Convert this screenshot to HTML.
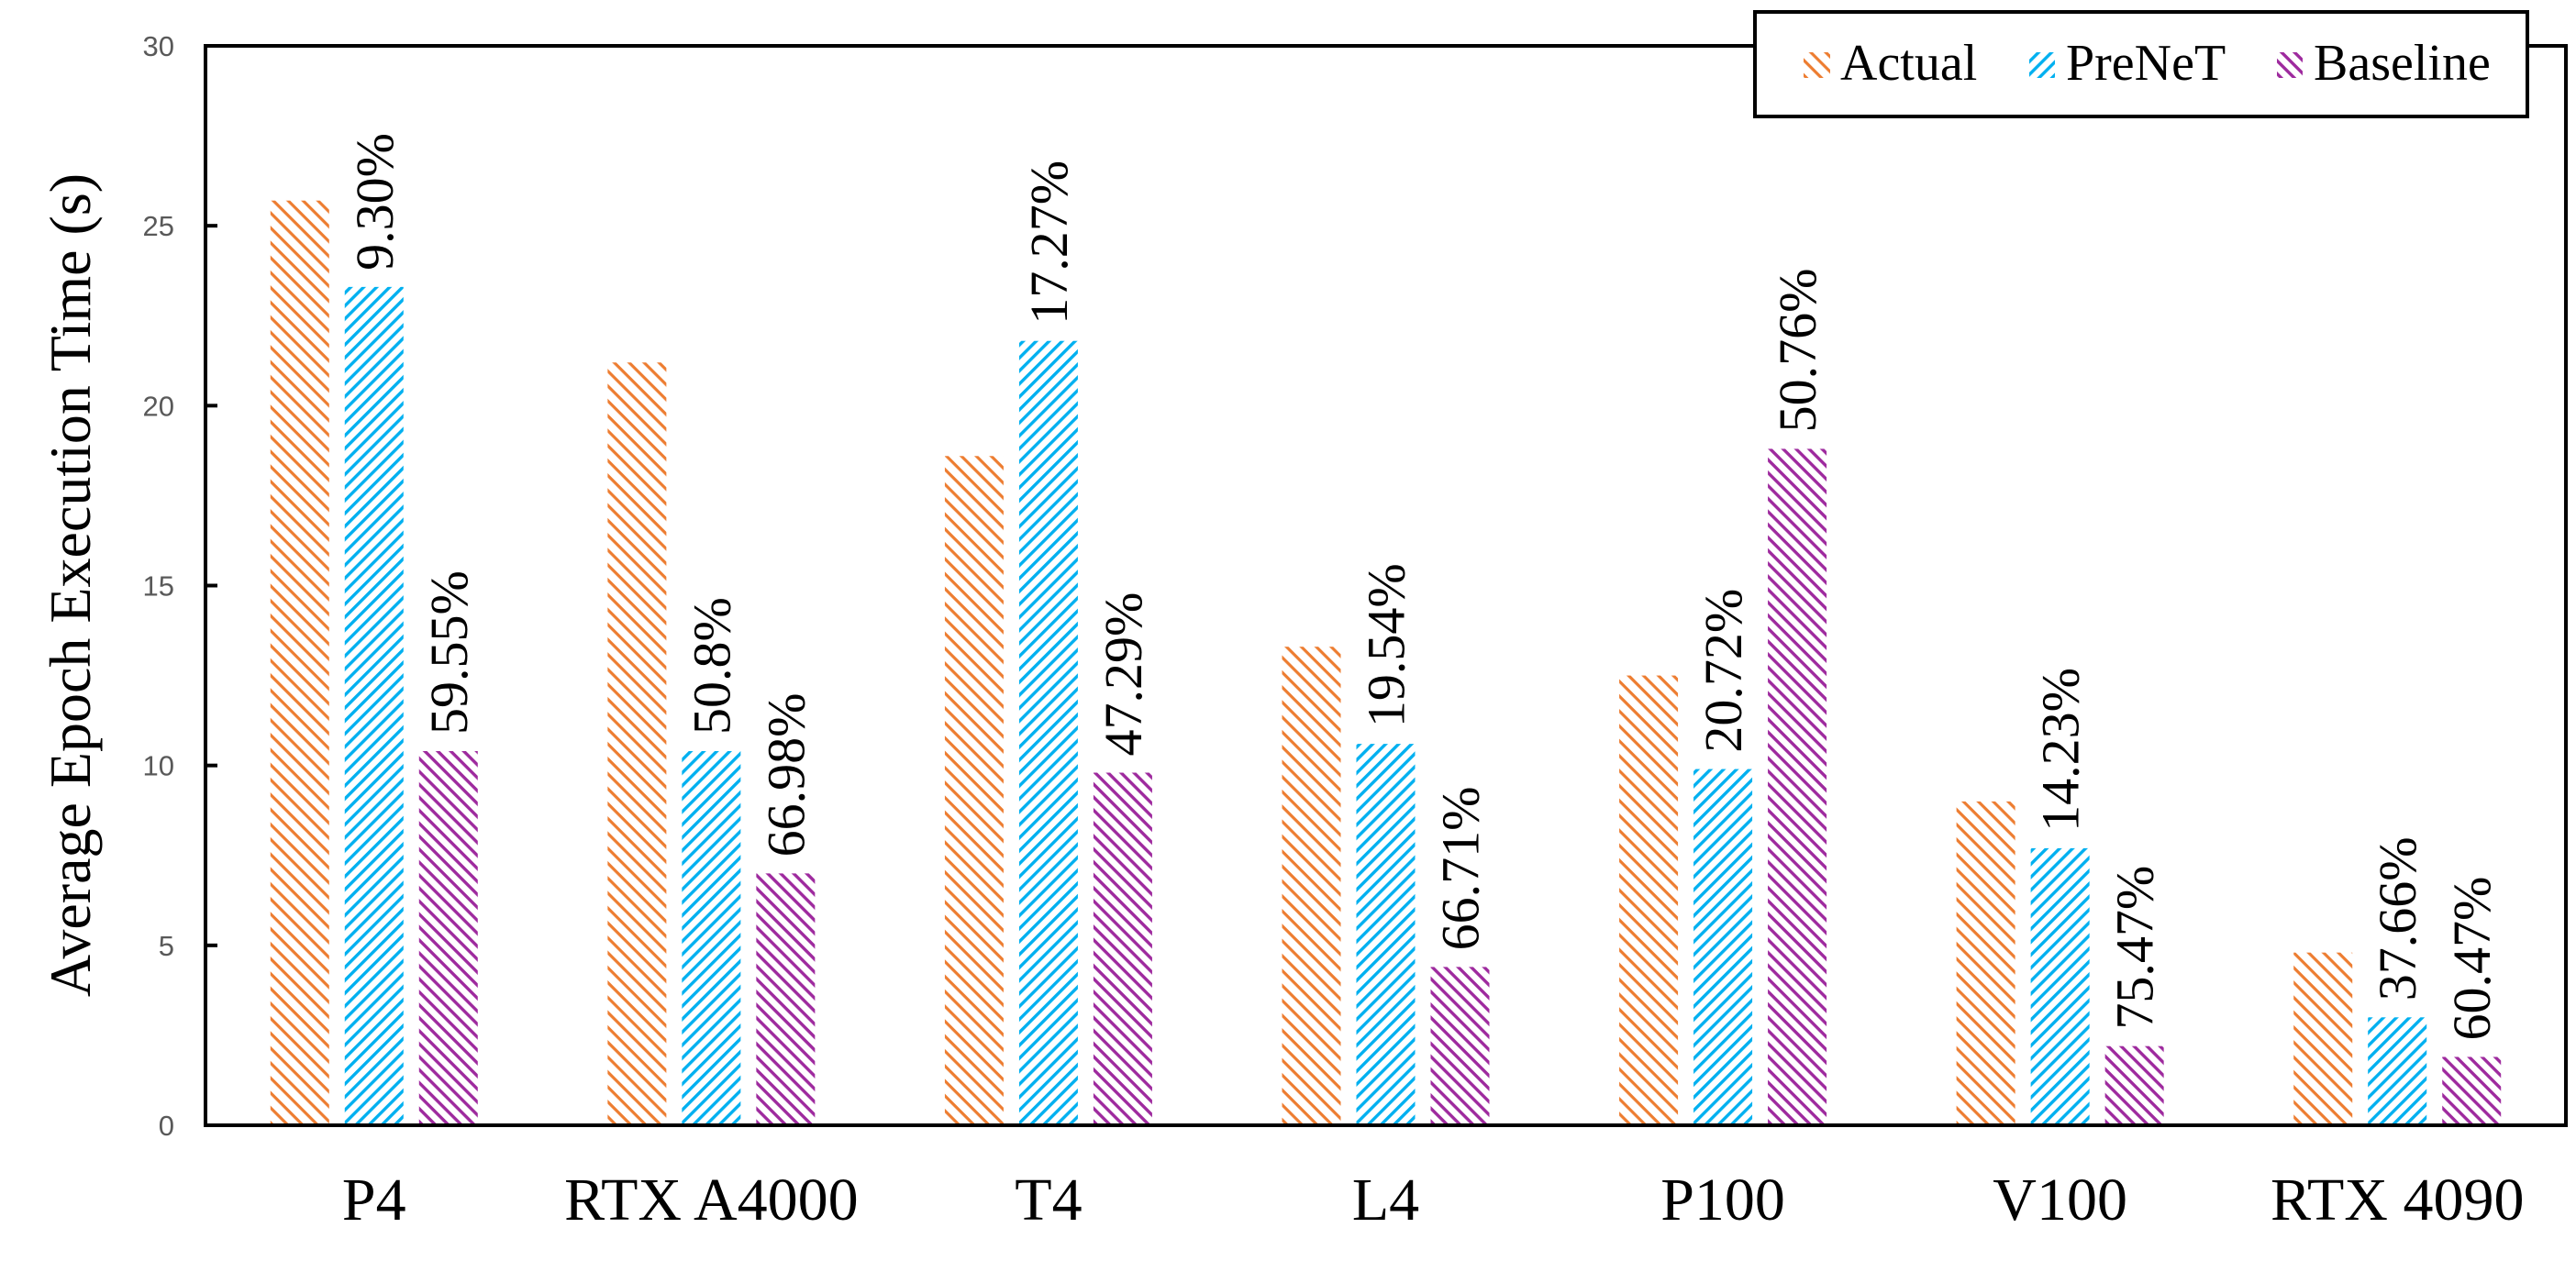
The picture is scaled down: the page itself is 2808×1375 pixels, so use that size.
<!DOCTYPE html>
<html><head><meta charset="utf-8"><style>
html,body{margin:0;padding:0;background:#fff;}
svg{display:block;}
.serif{font-family:"Liberation Serif",serif;}
</style></head><body>
<svg id="chart" width="2808" height="1375" viewBox="0 0 2808 1375" xmlns="http://www.w3.org/2000/svg">
<defs>
<pattern id="pA" patternUnits="userSpaceOnUse" width="11.5" height="11.5" patternTransform="rotate(45)"><rect width="11.5" height="11.5" fill="#fff"/><rect x="0" y="0" width="11.5" height="3.2" fill="#ED7D31"/></pattern>
<pattern id="pP" patternUnits="userSpaceOnUse" width="10" height="10" patternTransform="rotate(-45)"><rect width="10" height="10" fill="#fff"/><rect x="0" y="0" width="10" height="3.4" fill="#00B0F0"/></pattern>
<pattern id="pB" patternUnits="userSpaceOnUse" width="10" height="10" patternTransform="rotate(45)"><rect width="10" height="10" fill="#fff"/><rect x="0" y="0" width="10" height="3.4" fill="#9E2A9E"/></pattern>
</defs>
<g id="bars"></g>
<g id="labels" style="font-family:'Liberation Serif',serif"></g>
<g id="axes"></g>
<text class="serif" transform="translate(98,638) rotate(-90)" text-anchor="middle" font-size="64">Average Epoch Execution Time (s)</text>
<g>
<rect x="1913" y="13" width="842" height="114" fill="#fff" stroke="#000" stroke-width="4"/>
<g><rect x="1966" y="57" width="29" height="28" fill="url(#pA)"/><text class="serif" x="2006" y="87" font-size="56">Actual</text></g>
<g><rect x="2212" y="57" width="28" height="28" fill="url(#pP)"/><text class="serif" x="2252" y="87" font-size="56">PreNeT</text></g>
<g><rect x="2482" y="57" width="28" height="28" fill="url(#pB)"/><text class="serif" x="2522" y="87" font-size="56">Baseline</text></g>
</g>
</svg>
<script>
const categories = ["P4","RTX A4000","T4","L4","P100","V100","RTX 4090"];
const actual = [25.7,21.2,18.6,13.3,12.5,9.0,4.8];
const prenet = [23.3,10.4,21.8,10.6,9.9,7.7,3.0];
const baseline = [10.4,7.0,9.8,4.4,18.8,2.2,1.9];
const prenetLabels = ["9.30%","50.8%","17.27%","19.54%","20.72%","14.23%","37.66%"];
const baselineLabels = ["59.55%","66.98%","47.29%","66.71%","50.76%","75.47%","60.47%"];
const yTicks = [0,5,10,15,20,25,30];

const NS="http://www.w3.org/2000/svg";
const X0=224,X1=2797,Y0=1227,Y1=50,YMAX=30;
const groupW=(X1-X0)/categories.length, barW=64, pitch=81;
function y(v){return Y0-(v/YMAX)*(Y0-Y1);}
function gx(i){return X0+groupW*(i+0.5);}
function mk(tag,attrs,parent){const e=document.createElementNS(NS,tag);for(const k in attrs)e.setAttribute(k,attrs[k]);parent.appendChild(e);return e;}
const bars=document.getElementById('bars'),labels=document.getElementById('labels'),axes=document.getElementById('axes');
const series=[[actual,'url(#pA)','actual'],[prenet,'url(#pP)','prenet'],[baseline,'url(#pB)','baseline']];
categories.forEach((c,i)=>{
  series.forEach((s,j)=>{
    const cx=gx(i)+(j-1)*pitch, v=s[0][i];
    const r=mk('rect',{x:cx-barW/2,y:y(v),width:barW,height:Y0-y(v),fill:s[1]},bars);
    
    
    if(j>0){
      const txt=j==1?prenetLabels[i]:baselineLabels[i];
      const t=mk('text',{transform:`translate(${cx+20},${y(v)-18}) rotate(-90)`,'font-size':'58'},labels);
      t.style.fontFamily='"Liberation Serif", serif';
      t.textContent=txt;
      
      
    }
  });
  const xl=mk('text',{x:gx(i),y:1330,'text-anchor':'middle','class':'serif','font-size':'66'},axes);
  xl.textContent=c;
  
  
});
yTicks.forEach(v=>{
  if(v>0&&v<30){const tk=mk('line',{x1:X0,x2:X0+13,y1:y(v),y2:y(v),stroke:'#000','stroke-width':4},axes);
  
  }
  const t=mk('text',{x:190,y:y(v)+11,'text-anchor':'end','font-size':'31',fill:'#595959'},axes);
  t.style.fontFamily='"Liberation Sans", sans-serif';
  t.textContent=v;
  
  
});
const frame=mk('path',{d:`M${X0},${Y1}H1913M2755,${Y1}H${X1}V${Y0}`,fill:'none',stroke:'#000','stroke-width':4},axes);


const ya=mk('line',{x1:X0,x2:X0,y1:Y1-2,y2:Y0+2,stroke:'#000','stroke-width':4},axes);


const xa=mk('line',{x1:X0-2,x2:X1+2,y1:Y0,y2:Y0,stroke:'#000','stroke-width':4},axes);


</script>
</body></html>
